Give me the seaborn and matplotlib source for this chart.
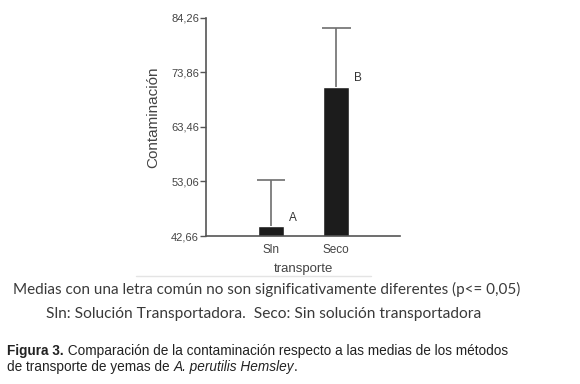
import numpy as np
import pandas as pd
import matplotlib
matplotlib.use("Agg")
import matplotlib.pyplot as plt
import seaborn as sns

# values
transporte = ["Sln", "Seco"]
medias = [44.6, 71.15]
error_sup = [8.75, 11.15]
letras = ["A", "B"]
yticks = [42.66, 53.06, 63.46, 73.86, 84.26]
ytick_labels = ["42,66", "53,06", "63,46", "73,86", "84,26"]

sns.set_style("white")
plt.rcParams['font.family'] = ['Liberation Sans', 'DejaVu Sans']

df = pd.DataFrame({"transporte": transporte, "Contaminación": medias})

fig = plt.figure(figsize=(5.8, 3.84), dpi=100)
ax = fig.add_axes([0.3552, 0.3854, 0.3345, 0.568])

sns.barplot(data=df, x="transporte", y="Contaminación", color="#1c1c1c",
            width=0.4, errorbar=None, ax=ax, saturation=1)

# only the upper half of the error bar, as in the original
x = np.arange(len(transporte))
tops = np.array(medias) + np.array(error_sup)
ax.vlines(x, medias, tops, color="#6e6e6e", lw=1.2, zorder=1)
ax.hlines(tops, x - 0.22, x + 0.22, color="#6e6e6e", lw=1.2)

for xi, m, l in zip(x, medias, letras):
    ax.text(xi + 0.27, m + 1.0, l, fontsize=8.5, color="#333333")

ax.set_xlim(-1, 1.98)
ax.set_ylim(42.66, 84.26)
ax.set_yticks(yticks)
ax.set_yticklabels(ytick_labels, fontsize=8, color="#444444")
ax.tick_params(axis="y", left=True, length=4, width=1, color="#555555", pad=1)
ax.tick_params(axis="x", bottom=False, labelsize=8.5, labelcolor="#444444", pad=2)
ax.set_xlabel("transporte", fontsize=9.5, color="#444444", labelpad=5)
ax.set_ylabel("Contaminación", fontsize=11, color="#444444")
ax.yaxis.set_label_coords(-0.235, 0.545)

for s in ["top", "right"]:
    ax.spines[s].set_visible(False)
for s in ["left", "bottom"]:
    ax.spines[s].set_color("#555555")
    ax.spines[s].set_linewidth(1.2)

fig.add_artist(plt.Line2D([0.235, 0.64], [0.281, 0.281], color="#e4e4e4", lw=1))

fig.text(0.46, 0.245, "Medias con una letra común no son significativamente diferentes (p<= 0,05)",
         ha="center", va="center", fontsize=11, color="#3a3a3a", family=["Lato", "DejaVu Sans"])
fig.text(0.455, 0.183, "Sln: Solución Transportadora.  Seco: Sin solución transportadora",
         ha="center", va="center", fontsize=11.2, color="#3a3a3a", family=["Lato", "DejaVu Sans"])

# figure caption, pieces placed one after the other
renderer = fig.canvas.get_renderer()


def pieza(x0, y0, s, **kw):
    t = fig.text(x0, y0, s, fontsize=9.8, color="#222222", family=["Liberation Sans"],
                 va="center", **kw)
    bb = t.get_window_extent(renderer=renderer)
    return (bb.x1) / fig.bbox.width


xn = pieza(0.012, 0.087, "Figura 3.", weight="bold")
pieza(xn, 0.087, " Comparación de la contaminación respecto a las medias de los métodos")
xn = pieza(0.012, 0.043, "de transporte de yemas de ")
xn = pieza(xn, 0.043, "A. perutilis Hemsley", style="italic")
pieza(xn, 0.043, ".")

fig.savefig("out.png", dpi=100)
